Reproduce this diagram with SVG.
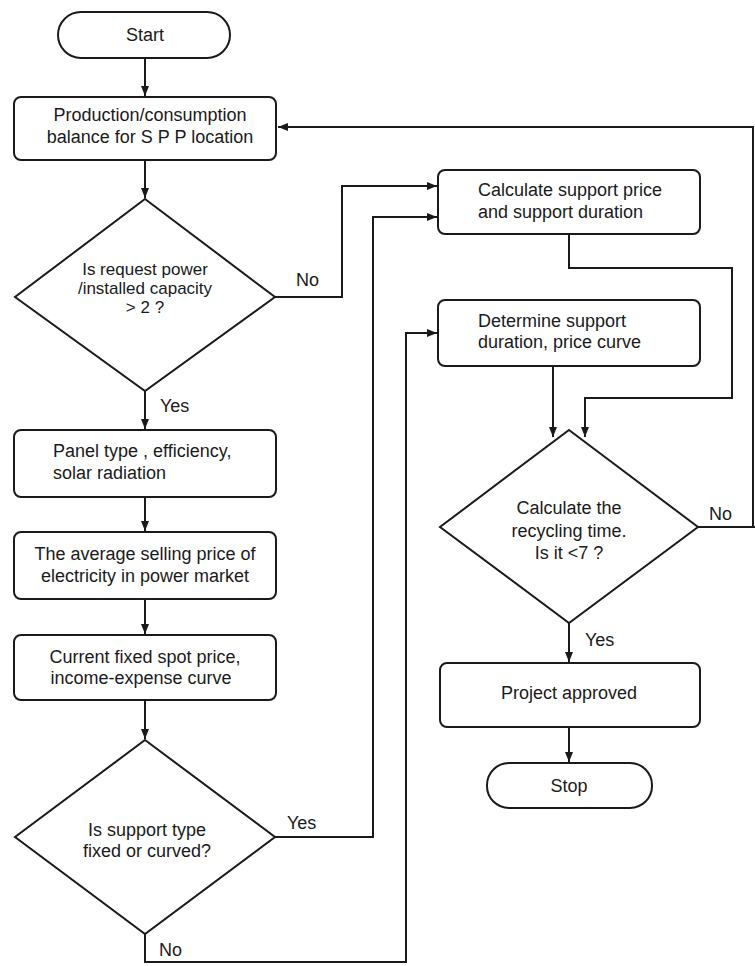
<svg xmlns="http://www.w3.org/2000/svg" width="755" height="966" viewBox="0 0 755 966">
<style>
.s{fill:#fff;stroke:#1a1a1a;stroke-width:2}
.c{fill:none;stroke:#1a1a1a;stroke-width:2}
text{font-family:"Liberation Sans",Arial,sans-serif;font-size:18px;fill:#1a1a1a}
.m{text-anchor:middle}
.t{font-size:17px}
</style>
<defs>
<marker id="a" viewBox="0 0 10 10" refX="10" refY="5" markerWidth="10" markerHeight="10" markerUnits="userSpaceOnUse" orient="auto">
<path d="M0,1 L10,5 L0,9 Z" fill="#1a1a1a"/>
</marker>
</defs>
<rect width="755" height="966" fill="#fff"/>
<g id="connectors">
<path class="c" d="M145,58 V96" marker-end="url(#a)"/>
<path class="c" d="M753,527 V127 H278" marker-end="url(#a)"/>
<path class="c" d="M145,160 V198" marker-end="url(#a)"/>
<path class="c" d="M275,297 H342 V186 H437" marker-end="url(#a)"/>
<path class="c" d="M145,391 V429" marker-end="url(#a)"/>
<path class="c" d="M145,497 V531" marker-end="url(#a)"/>
<path class="c" d="M145,599 V634" marker-end="url(#a)"/>
<path class="c" d="M145,700 V739" marker-end="url(#a)"/>
<path class="c" d="M275,837 H373 V217 H437" marker-end="url(#a)"/>
<path class="c" d="M145,934 V962 H406 V333 H437" marker-end="url(#a)"/>
<path class="c" d="M569,234 V268 H732 V398 H585 V437" marker-end="url(#a)"/>
<path class="c" d="M553,366 V437" marker-end="url(#a)"/>
<path class="c" d="M698,527 H755"/>
<path class="c" d="M569,623 V662" marker-end="url(#a)"/>
<path class="c" d="M569,727 V762" marker-end="url(#a)"/>
<text x="296" y="286">No</text>
<text x="160" y="412">Yes</text>
<text x="287" y="829">Yes</text>
<text x="159" y="956">No</text>
<text x="709" y="520">No</text>
<text x="585" y="646">Yes</text>
</g>
<g id="start">
<rect class="s" x="58" y="12" width="172" height="46" rx="23"/>
<text class="m" x="145" y="41">Start</text>
</g>
<g id="balance">
<rect class="s" x="14" y="97" width="262" height="63" rx="7"/>
<text class="m" x="150" y="121">Production/consumption</text>
<text class="m" x="150" y="143">balance for S P P location</text>
</g>
<g id="decision1">
<polygon class="s" points="145,199 275,297 145,391 15,297"/>
<text class="m t" x="145" y="275">Is request power</text>
<text class="m t" x="145" y="294">/installed capacity</text>
<text class="m t" x="145" y="313">&gt; 2 ?</text>
</g>
<g id="panel">
<rect class="s" x="14" y="430" width="262" height="67" rx="7"/>
<text x="53" y="457">Panel type , efficiency,</text>
<text x="53" y="479">solar radiation</text>
</g>
<g id="average">
<rect class="s" x="14" y="532" width="262" height="67" rx="7"/>
<text class="m" x="145" y="560">The average selling price of</text>
<text class="m" x="145" y="582">electricity in power market</text>
</g>
<g id="current">
<rect class="s" x="14" y="635" width="262" height="65" rx="7"/>
<text class="m" x="145" y="663">Current fixed spot price,</text>
<text class="m" x="141" y="684">income-expense curve</text>
</g>
<g id="decision2">
<polygon class="s" points="145,740 275,837 145,934 15,837"/>
<text class="m" x="147" y="836">Is support type</text>
<text class="m" x="147" y="857">fixed or curved?</text>
</g>
<g id="calcSupport">
<rect class="s" x="438" y="170" width="262" height="64" rx="7"/>
<text x="478" y="196">Calculate support price</text>
<text x="478" y="218">and support duration</text>
</g>
<g id="determine">
<rect class="s" x="438" y="300" width="262" height="66" rx="7"/>
<text x="478" y="327">Determine support</text>
<text x="478" y="348">duration, price curve</text>
</g>
<g id="decision3">
<polygon class="s" points="569,430 698,527 569,623 440,527"/>
<text class="m" x="569" y="514">Calculate the</text>
<text class="m" x="569" y="537">recycling time.</text>
<text class="m" x="569" y="559">Is it &lt;7 ?</text>
</g>
<g id="approved">
<rect class="s" x="440" y="663" width="260" height="64" rx="7"/>
<text class="m" x="569" y="699">Project approved</text>
</g>
<g id="stop">
<rect class="s" x="487" y="763" width="165" height="45" rx="22"/>
<text class="m" x="569" y="792">Stop</text>
</g>
</svg>
